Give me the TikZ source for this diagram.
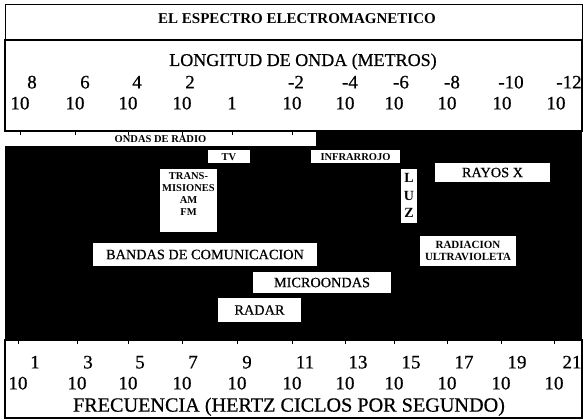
\documentclass[tikz,border=0pt]{standalone}
\usepackage{fontspec}
\setmainfont{Liberation Serif}
\newfontfamily\medfont{Liberation Serif}[FakeBold=0.6]
\begin{document}
\begin{tikzpicture}[x=1pt,y=-1pt,
  num/.style={inner sep=0pt, text height=12.8pt, text depth=0pt, font=\medfont\fontsize{19}{19}\selectfont},
  wbox/.style={fill=white, inner sep=0pt, text height=7pt, text depth=0pt, font=\bfseries\fontsize{10.5}{12}\selectfont},
  rbox/.style={fill=white, inner sep=0pt, text height=9.4pt, text depth=0pt, font=\medfont\fontsize{14.3}{16}\selectfont},
  bline/.style={inner sep=0pt, text height=7pt, text depth=0pt, font=\bfseries\fontsize{10.5}{12}\selectfont},
  luzletter/.style={inner sep=0pt, text height=9.3pt, text depth=0pt, font=\bfseries\fontsize{14}{14}\selectfont},
  tickmark/.style={line width=0.6pt}]
\useasboundingbox (0,0) rectangle (584,420);
% black band
\fill[black] (5,131) rectangle (582,340);
% title box
\draw[line width=0.8pt] (5,4) rectangle (582,40);
\node[inner sep=0pt, text height=10pt, text depth=0pt, font=\bfseries\fontsize{15}{15}\selectfont] (title) at (297,19) {EL ESPECTRO ELECTROMAGNETICO};
% wavelength box
\draw[line width=1.6pt] (5,40) rectangle (582,131);
\node[inner sep=0pt, text height=12pt, text depth=0pt, font=\medfont\fontsize{18}{18}\selectfont] (wl) at (303,60) {LONGITUD DE ONDA (METROS)};
\foreach \x/\e [count=\i] in {32/8,85/6,137/4,190/2,296/-2,350/-4,401/-6,452/-8,511/-10,569/-12}
  \node[num] (we\i) at (\x,82) {\e};
\foreach \x/\b [count=\i] in {20/10,75/10,128/10,182/10,232/1,292/10,345/10,394/10,447/10,502/10,556/10}
  \node[num] (wb\i) at (\x,103) {\b};
% radio bar
\node[wbox, minimum width=311pt, minimum height=14pt] (radio) at (160.5,138.5) {ONDAS DE RADIO};
\foreach \x in {20,75,128,182,232,292}
  \draw[tickmark] (\x,131) -- (\x,135);
% labels in the black band
\node[wbox, minimum width=42pt, minimum height=13pt] (tv) at (229,156.5) {TV};
\node[wbox, minimum width=89pt, minimum height=13pt] (ir) at (355.5,156.5) {INFRARROJO};
\node[rbox, minimum width=115pt, minimum height=19pt] (rx) at (492.5,172.5) {RAYOS X};
\node[fill=white, inner sep=0pt, minimum width=57pt, minimum height=63pt] (trans) at (188.5,200.5) {};
\node[bline] (t1) at (188.5,176) {TRANS-};
\node[bline] (t2) at (188.5,188) {MISIONES};
\node[bline] (t3) at (188.5,200) {AM};
\node[bline] (t4) at (188.5,212) {FM};
\node[fill=white, inner sep=0pt, minimum width=16pt, minimum height=54pt] (luz) at (409,196) {};
\node[luzletter] (l1) at (409,178) {L};
\node[luzletter] (l2) at (409,195.5) {U};
\node[luzletter] (l3) at (409,213) {Z};
\node[rbox, minimum width=224pt, minimum height=23pt] (bandas) at (205,254.5) {BANDAS DE COMUNICACION};
\node[fill=white, inner sep=0pt, minimum width=96pt, minimum height=30pt] (uv) at (468,251) {};
\node[bline, font=\bfseries\fontsize{11}{12}\selectfont] (u1) at (468,245) {RADIACION};
\node[bline, font=\bfseries\fontsize{11}{12}\selectfont] (u2) at (468,257) {ULTRAVIOLETA};
\node[rbox, minimum width=138pt, minimum height=21pt] (micro) at (322,282.5) {MICROONDAS};
\node[rbox, minimum width=83pt, minimum height=24pt] (radar) at (259.5,310) {RADAR};
% frequency box
\draw[line width=1.6pt] (5,340) rectangle (582,418);
\foreach \x in {18,77,128,182,237,292,345,394,447,501,554}
  \draw[tickmark] (\x,340) -- (\x,344);
\foreach \x/\e [count=\i] in {35/1,88/3,140/5,193/7,247/9,305/11,358/13,411/15,464/17,517/19,572/21}
  \node[num] (fe\i) at (\x,362) {\e};
\foreach \x [count=\i] in {18,77,128,182,237,292,345,394,447,501,554}
  \node[num] (fb\i) at (\x,383) {10};
\node[inner sep=0pt, text height=13.3pt, text depth=0pt, font=\medfont\fontsize{20.2}{20}\selectfont] (freq) at (289,405) {FRECUENCIA (HERTZ CICLOS POR SEGUNDO)};
\end{tikzpicture}
\end{document}
